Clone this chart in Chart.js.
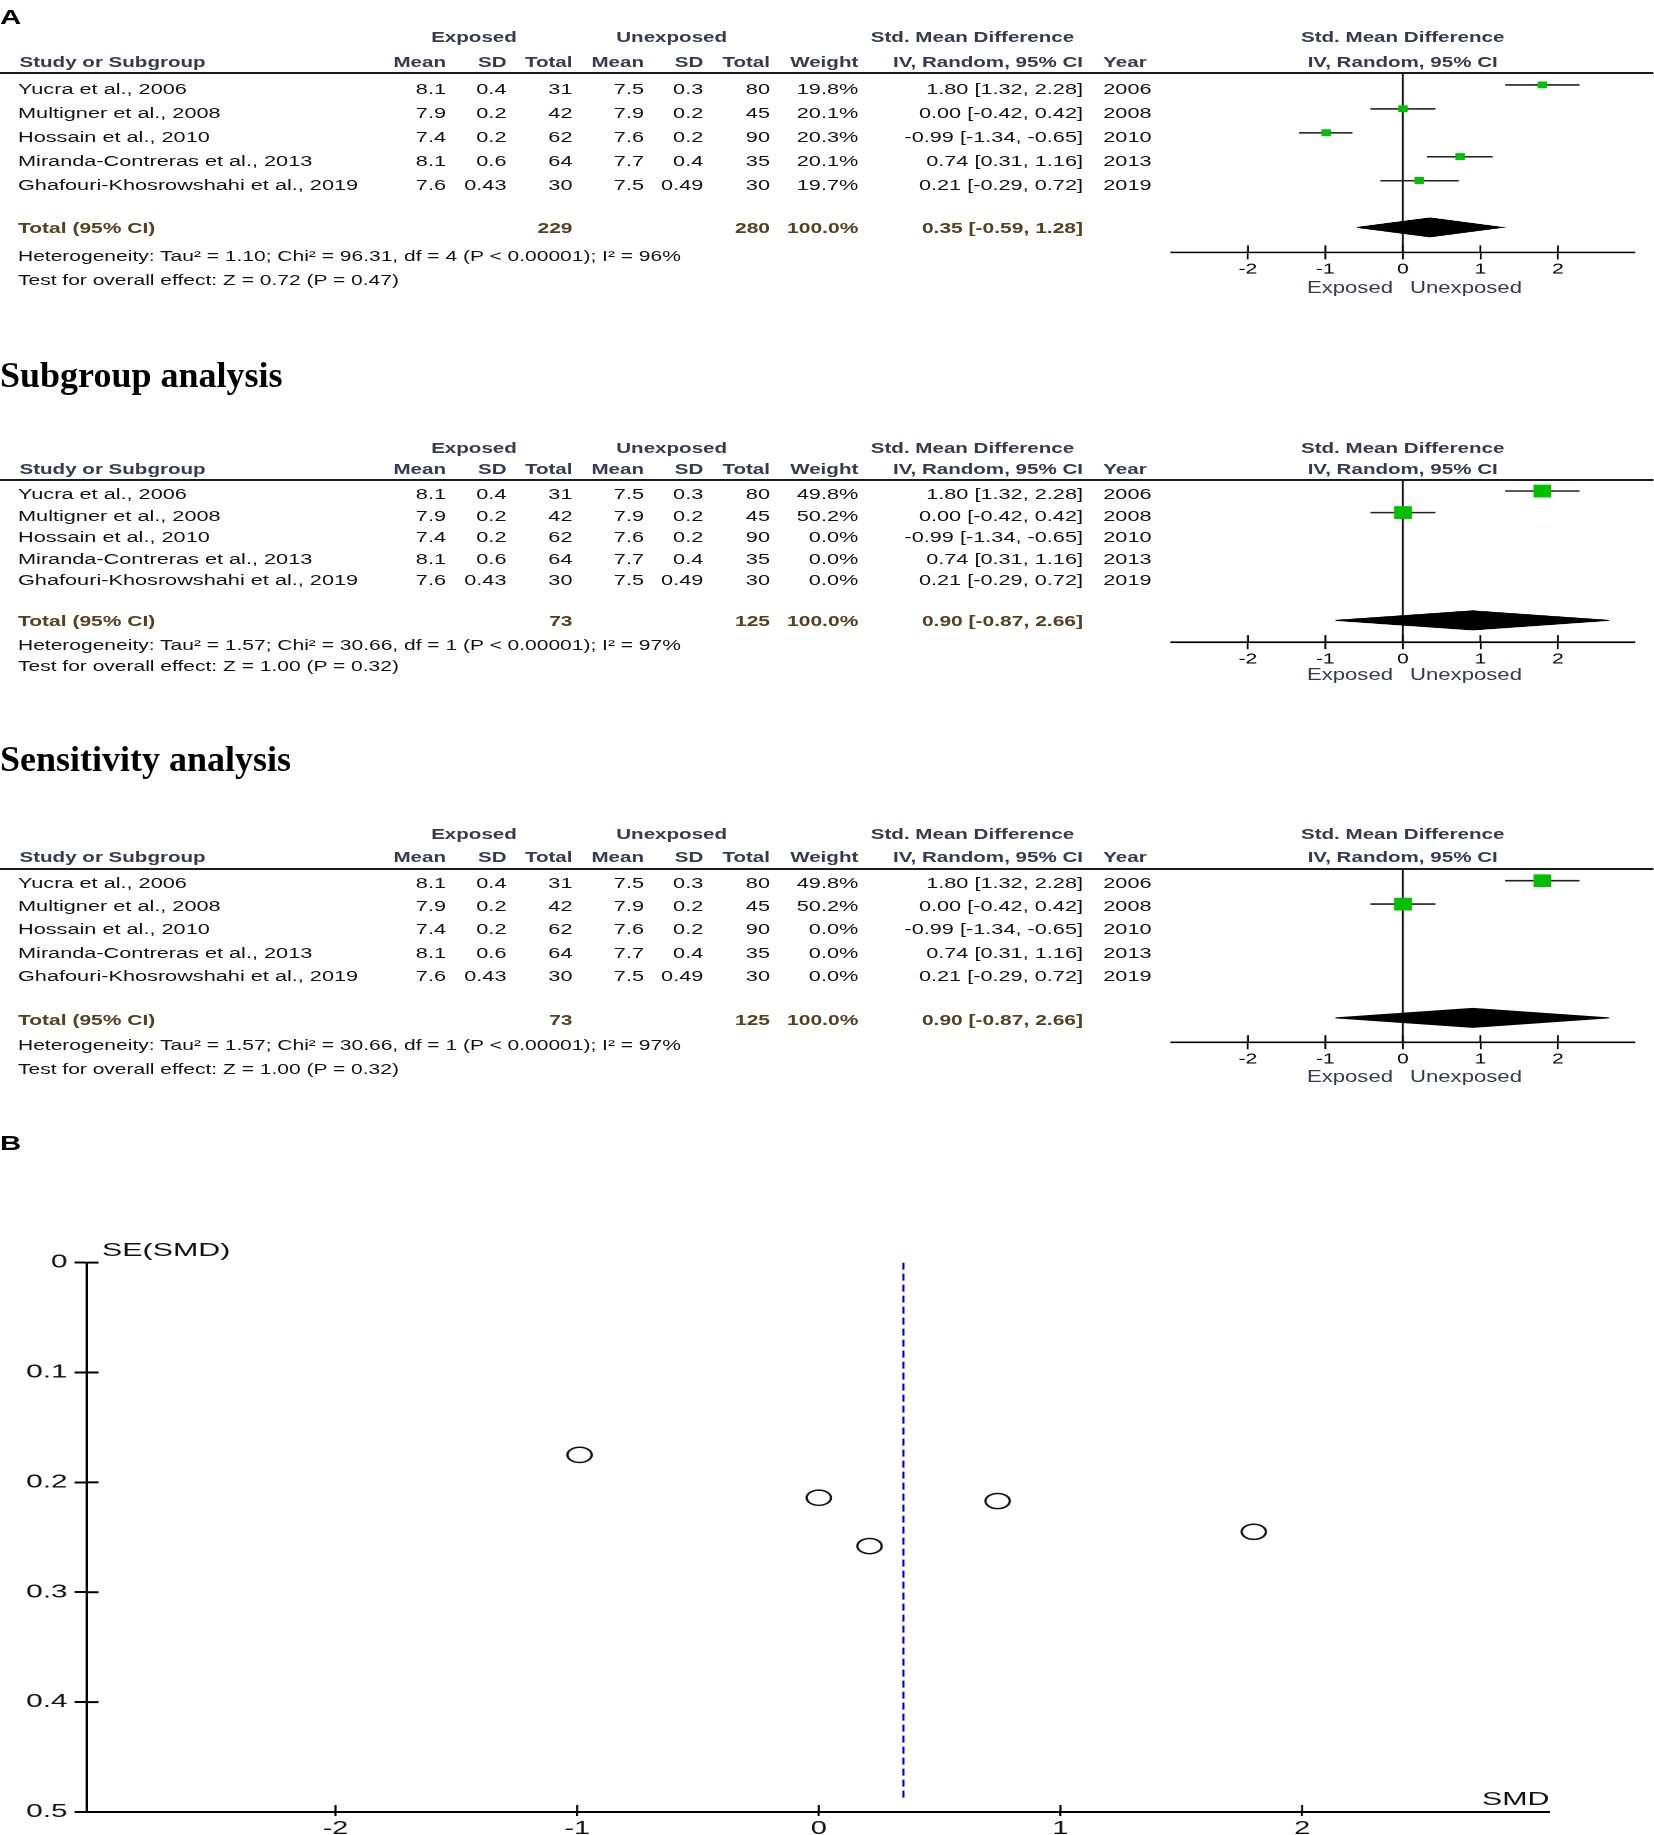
<!DOCTYPE html>
<html>
<head>
<meta charset="utf-8">
<script src="https://cdn.jsdelivr.net/npm/chart.js@4.4.1/dist/chart.umd.min.js"></script>
<style>
html, body { margin: 0; padding: 0; background: #fff; }
body { width: 1654px; height: 1835px; overflow: hidden; position: relative; font-family: "Liberation Sans", Arial, sans-serif; }
.layer { position: absolute; left: 0; top: 0; height: 1835px; transform-origin: 0 0; }
.t { position: absolute; white-space: pre; line-height: 18px; height: 18px; font-size: 15.5px; color: #111; }
.h { font-weight: bold; font-size: 14.7px; color: #38384f; }
.tot { font-weight: bold; font-size: 15px; color: #55401f; }
.sm { font-size: 15px; }
.side { font-size: 15.8px; color: #38384f; }
.lab { font-weight: bold; font-size: 21px; line-height: 24px; height: 24px; color: #000; }
.title { position: absolute; left: 0; font-family: "Liberation Serif", "Times New Roman", serif; font-weight: bold; font-size: 36px; line-height: 40px; color: #000; white-space: pre; }
.hr { position: absolute; left: 0; width: 100%; height: 2px; background: #1a1a1a; }
.box { position: absolute; }
</style>
</head>
<body>
<div id="forest" class="layer"></div>
<div id="funnel" class="layer"></div>
<div class="title" style="top:355px">Subgroup analysis</div>
<div class="title" style="top:739px">Sensitivity analysis</div>
<script>
// study data
const studies = ['Yucra et al., 2006', 'Multigner et al., 2008', 'Hossain et al., 2010', 'Miranda-Contreras et al., 2013', 'Ghafouri-Khosrowshahi et al., 2019']
const expMean = [8.1, 7.9, 7.4, 8.1, 7.6]
const expSD = [0.4, 0.2, 0.2, 0.6, 0.43]
const expN = [31, 42, 62, 64, 30]
const unMean = [7.5, 7.9, 7.6, 7.7, 7.5]
const unSD = [0.3, 0.2, 0.2, 0.4, 0.49]
const unN = [80, 45, 90, 35, 30]
const smd = [1.80, 0.00, -0.99, 0.74, 0.21]
const ciLow = [1.32, -0.42, -1.34, 0.31, -0.29]
const ciHigh = [2.28, 0.42, -0.65, 1.16, 0.72]
const years = [2006, 2008, 2010, 2013, 2019]
const weightsAll = [19.8, 20.1, 20.3, 20.1, 19.7]
const weightsSub = [49.8, 50.2, 0.0, 0.0, 0.0]
const weightsSens = [49.8, 50.2, 0.0, 0.0, 0.0]
// pooled [estimate, low, high]
const pooledAll = [0.35, -0.59, 1.28]
const pooledSub = [0.90, -0.87, 2.66]
const totalNAll = [229, 280]
const totalNSub = [73, 125]
const hetAll = 'Heterogeneity: Tau\u00b2 = 1.10; Chi\u00b2 = 96.31, df = 4 (P < 0.00001); I\u00b2 = 96%'
const testAll = 'Test for overall effect: Z = 0.72 (P = 0.47)'
const hetSub = 'Heterogeneity: Tau\u00b2 = 1.57; Chi\u00b2 = 30.66, df = 1 (P < 0.00001); I\u00b2 = 97%'
const testSub = 'Test for overall effect: Z = 1.00 (P = 0.32)'
// funnel plot standard errors
const seSMD = [0.245, 0.214, 0.175, 0.217, 0.258]
// tick labels
const smdTicks = [-2, -1, 0, 1, 2]
const seTicks = [0, 0.1, 0.2, 0.3, 0.4, 0.5]

Chart.defaults.font.family = 'Liberation Sans'

// the source picture is stretched sideways, so layers are scaled in x
const K = 1.4, KB = 1.6
const FW = 1654 / K, BW = 1654 / KB
const forest = document.getElementById('forest')
const funnel = document.getElementById('funnel')
forest.style.width = FW + 'px'
forest.style.transform = 'scaleX(' + K + ')'
funnel.style.width = BW + 'px'
funnel.style.transform = 'scaleX(' + KB + ')'

const plotL = 1170, plotR = 1635
const col = { name: 18, m1: 446, s1: 506.5, n1: 572.5, m2: 644, s2: 703.3, n2: 770, w: 858.3, ci: 1083, yr: 1103.3,
    exp: 474, unexp: 671.7, smdHead: 972.5, plotHead: 1402.7, favL: 1350, favR: 1466 }

function put(layer, k, x, y, str, cls, align) {
    let d = document.createElement('div')
    d.className = 't ' + (cls || '')
    d.textContent = str
    let lh = cls === 'lab' ? 24 : 18
    d.style.top = (y - lh / 2) + 'px'
    let lx = x / k
    if (align === 'right') {
        d.style.right = (1654 / k - lx) + 'px'
    } else if (align === 'center') {
        d.style.left = (lx - 200) + 'px'
        d.style.width = '400px'
        d.style.textAlign = 'center'
    } else {
        d.style.left = lx + 'px'
    }
    layer.appendChild(d)
}
const pf = (x, y, s, c, a) => put(forest, K, x, y, s, c, a)

const crossTicks = (upX, rightY, w) => ({
    id: 'crossTicks',
    afterDraw(chart) {
        let ctx = chart.ctx, area = chart.chartArea
        ctx.save()
        ctx.strokeStyle = '#000'
        let xs = chart.scales.x
        ctx.lineWidth = w
        xs.ticks.forEach(t => {
            let px = xs.getPixelForValue(t.value)
            ctx.beginPath(); ctx.moveTo(px, area.bottom); ctx.lineTo(px, area.bottom - upX); ctx.stroke()
        })
        if (rightY) {
            let ys = chart.scales.y
            ctx.lineWidth = 2
            ys.ticks.forEach(t => {
                let py = ys.getPixelForValue(t.value)
                ctx.beginPath(); ctx.moveTo(area.left, py); ctx.lineTo(area.left + rightY, py); ctx.stroke()
            })
        }
        ctx.restore()
    }
})

const fmtCI = (e, l, h) => e.toFixed(2) + ' [' + l.toFixed(2) + ', ' + h.toFixed(2) + ']'

const panels = [
    { weights: weightsAll, pooled: pooledAll, totN: totalNAll, het: hetAll, test: testAll,
      groupY: 36.7, headY: 61.7, lineY: 72.5, rowY: 88.5, gap: 24, markY: 84.4, totY: 228.3, diaY: 227.3, hetY: 256, testY: 280, axisY: 252.3, favY: 288 },
    { weights: weightsSub, pooled: pooledSub, totN: totalNSub, het: hetSub, test: testSub,
      groupY: 448, headY: 469.4, lineY: 480, rowY: 494, gap: 21.5, markY: 491, totY: 620.5, diaY: 620, hetY: 644.5, testY: 666, axisY: 641.7, favY: 674.5 },
    { weights: weightsSens, pooled: pooledSub, totN: totalNSub, het: hetSub, test: testSub,
      groupY: 833.5, headY: 857, lineY: 868.6, rowY: 882.6, gap: 23.4, markY: 880.3, totY: 1019.6, diaY: 1017.5, hetY: 1045.3, testY: 1068.8, axisY: 1041.8, favY: 1077 }
]

function buildPanel(p) {
    pf(col.exp, p.groupY, 'Exposed', 'h', 'center')
    pf(col.unexp, p.groupY, 'Unexposed', 'h', 'center')
    pf(col.smdHead, p.groupY, 'Std. Mean Difference', 'h', 'center')
    pf(col.plotHead, p.groupY, 'Std. Mean Difference', 'h', 'center')
    pf(19.5, p.headY, 'Study or Subgroup', 'h')
    pf(col.m1, p.headY, 'Mean', 'h', 'right')
    pf(col.s1, p.headY, 'SD', 'h', 'right')
    pf(col.n1, p.headY, 'Total', 'h', 'right')
    pf(col.m2, p.headY, 'Mean', 'h', 'right')
    pf(col.s2, p.headY, 'SD', 'h', 'right')
    pf(col.n2, p.headY, 'Total', 'h', 'right')
    pf(col.w, p.headY, 'Weight', 'h', 'right')
    pf(col.ci, p.headY, 'IV, Random, 95% CI', 'h', 'right')
    pf(col.yr, p.headY, 'Year', 'h')
    pf(col.plotHead, p.headY, 'IV, Random, 95% CI', 'h', 'center')

    let hr = document.createElement('div')
    hr.className = 'hr'
    hr.style.top = (p.lineY - 1) + 'px'
    forest.appendChild(hr)

    studies.forEach((s, i) => {
        let y = p.rowY + i * p.gap
        pf(col.name, y, s)
        pf(col.m1, y, expMean[i].toFixed(1), '', 'right')
        pf(col.s1, y, String(expSD[i]), '', 'right')
        pf(col.n1, y, String(expN[i]), '', 'right')
        pf(col.m2, y, unMean[i].toFixed(1), '', 'right')
        pf(col.s2, y, String(unSD[i]), '', 'right')
        pf(col.n2, y, String(unN[i]), '', 'right')
        pf(col.w, y, p.weights[i].toFixed(1) + '%', '', 'right')
        pf(col.ci, y, fmtCI(smd[i], ciLow[i], ciHigh[i]), '', 'right')
        pf(col.yr, y, String(years[i]))
    })
    pf(col.name, p.totY, 'Total (95% CI)', 'tot')
    pf(col.n1, p.totY, String(p.totN[0]), 'tot', 'right')
    pf(col.n2, p.totY, String(p.totN[1]), 'tot', 'right')
    pf(col.w, p.totY, '100.0%', 'tot', 'right')
    pf(col.ci, p.totY, fmtCI(p.pooled[0], p.pooled[1], p.pooled[2]), 'tot', 'right')
    pf(col.name, p.hetY, p.het, 'sm')
    pf(col.name, p.testY, p.test, 'sm')
    pf(col.favL, p.favY, 'Exposed', 'side', 'center')
    pf(col.favR, p.favY, 'Unexposed', 'side', 'center')

    // forest graphic
    let box = document.createElement('div')
    box.className = 'box'
    box.style.left = (plotL / K) + 'px'
    box.style.top = p.lineY + 'px'
    box.style.width = ((plotR - plotL) / K) + 'px'
    box.style.height = (p.axisY - p.lineY + 30) + 'px'
    let cv = document.createElement('canvas')
    box.appendChild(cv)
    forest.appendChild(box)

    let yMin = (p.lineY - p.markY) / p.gap
    let yMax = (p.axisY - p.markY) / p.gap
    let tIdx = (p.diaY - p.markY) / p.gap
    let h = 9.5 / p.gap

    let pts = []
    studies.forEach((s, i) => { if (p.weights[i] > 0) pts.push({ x: smd[i], y: i, w: p.weights[i] }) })
    let datasets = [{
        data: pts, showLine: false, pointStyle: 'rect',
        pointRadius: pts.map(q => 2 + 0.14 * q.w),
        pointBackgroundColor: '#00c000', pointBorderWidth: 0, borderWidth: 0
    }]
    studies.forEach((s, i) => {
        if (p.weights[i] > 0) datasets.push({
            data: [{ x: ciLow[i], y: i }, { x: ciHigh[i], y: i }],
            borderColor: '#222', borderWidth: 1.6, pointRadius: 0
        })
    })
    datasets.push({
        data: [{ x: p.pooled[1], y: tIdx }, { x: p.pooled[0], y: tIdx - h }, { x: p.pooled[2], y: tIdx },
               { x: p.pooled[0], y: tIdx + h }, { x: p.pooled[1], y: tIdx }],
        fill: 'shape', backgroundColor: '#000', borderColor: '#000', borderWidth: 1, pointRadius: 0
    })
    datasets.push({
        data: [{ x: 0, y: yMin }, { x: 0, y: yMax }],
        borderColor: '#111', borderWidth: 1.3, pointRadius: 0
    })

    new Chart(cv, {
        type: 'line',
        data: { datasets: datasets },
        options: {
            responsive: true, maintainAspectRatio: false, animation: false, devicePixelRatio: 2,
            events: [],
            layout: { padding: 0, autoPadding: false },
            plugins: { legend: { display: false }, tooltip: { enabled: false } },
            scales: {
                x: {
                    type: 'linear', min: -3, max: 3,
                    afterBuildTicks: s => { s.ticks = smdTicks.map(v => ({ value: v })) },
                    afterFit: s => { s.height = 30 },
                    grid: { drawOnChartArea: false, tickLength: 7, color: '#000', lineWidth: 1.3 },
                    border: { display: true, color: '#000', width: 1.6 },
                    ticks: { color: '#000', font: { size: 15, lineHeight: 1.0 }, padding: 2.5, maxRotation: 0, autoSkip: false }
                },
                y: { type: 'linear', display: false, reverse: true, min: yMin, max: yMax }
            }
        },
        plugins: [crossTicks(7, 0, 1.3)]
    })
}

put(forest, K, 0, 16.7, 'A', 'lab')
put(forest, K, 0, 1143.3, 'B', 'lab')
panels.forEach(buildPanel)

// funnel plot
function putB(x, y, s) {
    let d = document.createElement('div')
    d.className = 't'
    d.style.fontSize = '19px'
    d.style.lineHeight = '22px'
    d.style.height = '22px'
    d.style.top = (y - 11) + 'px'
    d.style.left = (x / KB) + 'px'
    d.textContent = s
    funnel.appendChild(d)
}
putB(102, 1250, 'SE(SMD)')
putB(1482, 1799, 'SMD')

let fbox = document.createElement('div')
fbox.className = 'box'
fbox.style.left = '0px'
fbox.style.top = '1247px'
fbox.style.width = (1551 / KB) + 'px'
fbox.style.height = '605px'
let fcv = document.createElement('canvas')
fbox.appendChild(fcv)
funnel.appendChild(fbox)

new Chart(fcv, {
    type: 'scatter',
    data: {
        datasets: [{
            data: smd.map((v, i) => ({ x: v, y: seSMD[i] })),
            pointStyle: 'circle', pointRadius: 7.6,
            pointBorderColor: '#111', pointBackgroundColor: 'rgba(255,255,255,0)', pointBorderWidth: 1.5
        }, {
            data: [{ x: pooledAll[0], y: seTicks[0] }, { x: pooledAll[0], y: 0.49 }],
            showLine: true, borderColor: '#0000cc', borderWidth: 1.3, borderDash: [7, 4], pointRadius: 0
        }]
    },
    options: {
        responsive: true, maintainAspectRatio: false, animation: false, devicePixelRatio: 2,
        events: [],
        layout: { padding: { top: 5, left: 0, right: 0, bottom: 0 }, autoPadding: false },
        plugins: { legend: { display: false }, tooltip: { enabled: false } },
        scales: {
            x: {
                type: 'linear', min: -3.03, max: 3.03,
                afterBuildTicks: s => { s.ticks = smdTicks.map(v => ({ value: v })) },
                afterFit: s => { s.height = 40 },
                grid: { drawOnChartArea: false, tickLength: 4, color: '#000', lineWidth: 1.3 },
                border: { display: true, color: '#000', width: 2 },
                ticks: { color: '#111', font: { size: 18 }, padding: 2, maxRotation: 0, autoSkip: false }
            },
            y: {
                type: 'linear', reverse: true, min: 0, max: 0.5,
                afterBuildTicks: s => { s.ticks = seTicks.map(v => ({ value: v })) },
                afterFit: s => { s.width = 86.6 / KB },
                grid: { drawOnChartArea: false, tickLength: 7.5, color: '#000', lineWidth: 2 },
                border: { display: true, color: '#000', width: 1.5 },
                ticks: { color: '#111', font: { size: 18.5 }, padding: 4.5, callback: v => v === 0 ? '0' : v.toFixed(1) }
            }
        }
    },
    plugins: [crossTicks(7, 7.5, 1.3)]
})
</script>
</body>
</html>
